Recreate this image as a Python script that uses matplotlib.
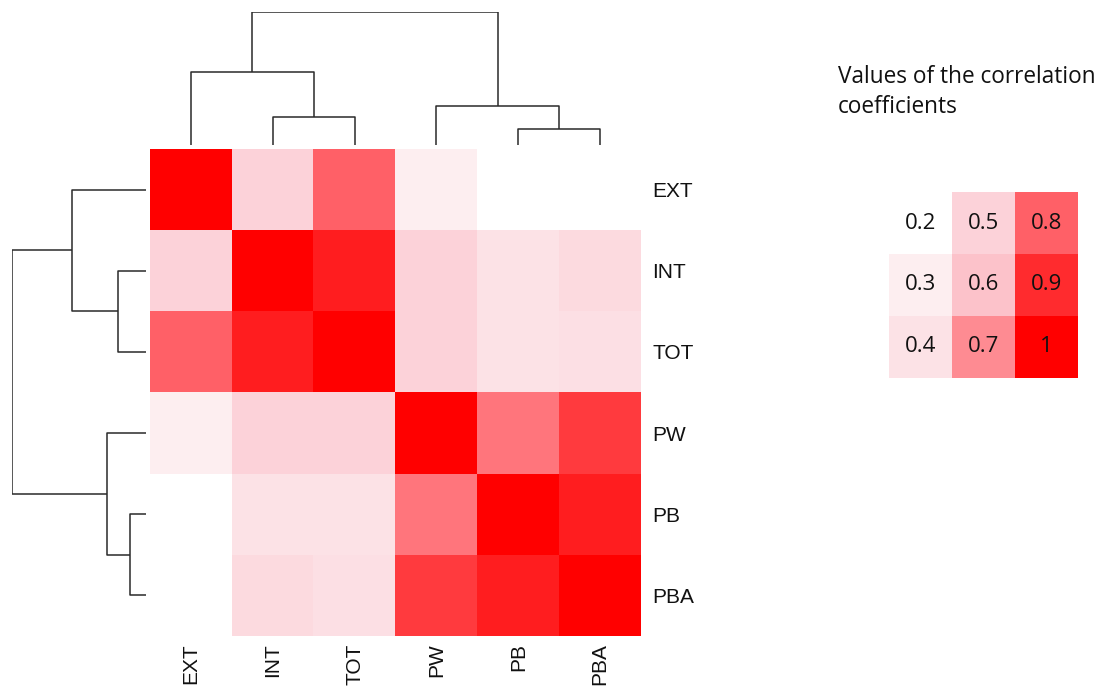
import matplotlib
matplotlib.use("Agg")
import matplotlib.pyplot as plt
import numpy as np
from matplotlib.colors import LinearSegmentedColormap, Normalize

# Variables in dendrogram order
labels = ["EXT", "INT", "TOT", "PW", "PB", "PBA"]

# Correlation coefficients (rows/cols in the order above)
corr_ext = [1.00, 0.50, 0.80, 0.30, 0.20, 0.20]
corr_int = [0.50, 1.00, 0.93, 0.50, 0.40, 0.45]
corr_tot = [0.80, 0.93, 1.00, 0.50, 0.40, 0.42]
corr_pw = [0.30, 0.50, 0.50, 1.00, 0.75, 0.87]
corr_pb = [0.20, 0.40, 0.40, 0.75, 1.00, 0.93]
corr_pba = [0.20, 0.45, 0.42, 0.87, 0.93, 1.00]

# Colour key: value -> colour
key_values = [0.2, 0.3, 0.4, 0.5, 0.6, 0.7, 0.8, 0.9, 1.0]
key_colors = ["#ffffff", "#fdeef0", "#fde3e7", "#fcd2d9", "#fcc2ca",
              "#ff8b92", "#ff6269", "#ff2b2e", "#ff0000"]
key_labels = ["0.2", "0.3", "0.4", "0.5", "0.6", "0.7", "0.8", "0.9", "1"]

# Hierarchical clustering merges: (left member, right member, height)
# members are leaf indices or previously created node ids ("n0", "n1", ...)
merges = [
    (4, 5, 0.12),        # PB + PBA
    (1, 2, 0.21),        # INT + TOT
    (3, "n0", 0.29),     # PW + (PB, PBA)
    (0, "n1", 0.55),     # EXT + (INT, TOT)
    ("n3", "n2", 1.00),  # root
]

matrix = np.array([corr_ext, corr_int, corr_tot, corr_pw, corr_pb, corr_pba])

vmin, vmax = min(key_values), max(key_values)
positions = [(v - vmin) / (vmax - vmin) for v in key_values]
cmap = LinearSegmentedColormap.from_list("corr_reds", list(zip(positions, key_colors)))
norm = Normalize(vmin=vmin, vmax=vmax)

W, H = 1108, 691
fig = plt.figure(figsize=(W / 100, H / 100), dpi=100)


def frac(x0, y0, x1, y1):
    return [x0 / W, 1 - y1 / H, (x1 - x0) / W, (y1 - y0) / H]


line_kw = dict(color="#2a2a2a", lw=1.1, solid_capstyle="butt")


def dendro_segments():
    pos = {i: (i + 0.5, 0.0) for i in range(len(labels))}
    segs = []
    for k, (a, b, h) in enumerate(merges):
        xa, ha = pos[a]
        xb, hb = pos[b]
        segs.append(([xa, xa, xb, xb], [ha, h, h, hb]))
        pos["n%d" % k] = ((xa + xb) / 2, h)
    return segs


segments = dendro_segments()
root_h = max(m[2] for m in merges)

# Heatmap
ax = fig.add_axes(frac(150, 149, 641, 636))
ax.imshow(matrix, cmap=cmap, norm=norm, aspect="auto",
          extent=(0, 6, 6, 0), interpolation="nearest")
ax.set_xlim(0, 6)
ax.set_ylim(6, 0)
for s in ax.spines.values():
    s.set_visible(False)
ax.set_xticks([])
ax.set_yticks([])
for i, lab in enumerate(labels):
    ax.annotate(lab, xy=(6, i + 0.5), xytext=(8, -1.5), textcoords="offset points",
                ha="left", va="center", fontsize=15, family="Liberation Sans",
                color="#111111")
    ax.text(i + 0.5, 6.09, lab, ha="center", va="top", rotation=90,
            fontsize=15, family="Liberation Sans", color="#111111")

# Top dendrogram
axt = fig.add_axes(frac(150, 12, 641, 145))
for xs, hs in segments:
    axt.plot(xs, hs, **line_kw)
axt.set_xlim(0, 6)
axt.set_ylim(0, root_h)
axt.axis("off")

# Left dendrogram
axl = fig.add_axes(frac(12, 149, 146, 636))
for xs, hs in segments:
    axl.plot(hs, xs, **line_kw)
axl.set_xlim(root_h, 0)
axl.set_ylim(6, 0)
axl.axis("off")

# Colour key
fig.text(838 / W, 1 - 77 / H, "Values of the correlation",
         ha="left", va="center", fontsize=16.3, family="Open Sans",
         color="#111111")
fig.text(838 / W, 1 - 107 / H, "coefficients",
         ha="left", va="center", fontsize=16.3, family="Open Sans",
         color="#111111")

axk = fig.add_axes(frac(889, 192, 1078, 378))
key_grid = np.array(key_values).reshape(3, 3).T
axk.imshow(key_grid, cmap=cmap, norm=norm, aspect="auto",
           extent=(0, 3, 3, 0), interpolation="nearest")
for idx, lab in enumerate(key_labels):
    col, row = divmod(idx, 3)
    axk.text(col + 0.5, row + 0.5, lab, ha="center", va="center",
             fontsize=16, family="Open Sans", color="#111111")
axk.set_xlim(0, 3)
axk.set_ylim(3, 0)
axk.axis("off")

fig.savefig("out.png", dpi=100, facecolor="white")
